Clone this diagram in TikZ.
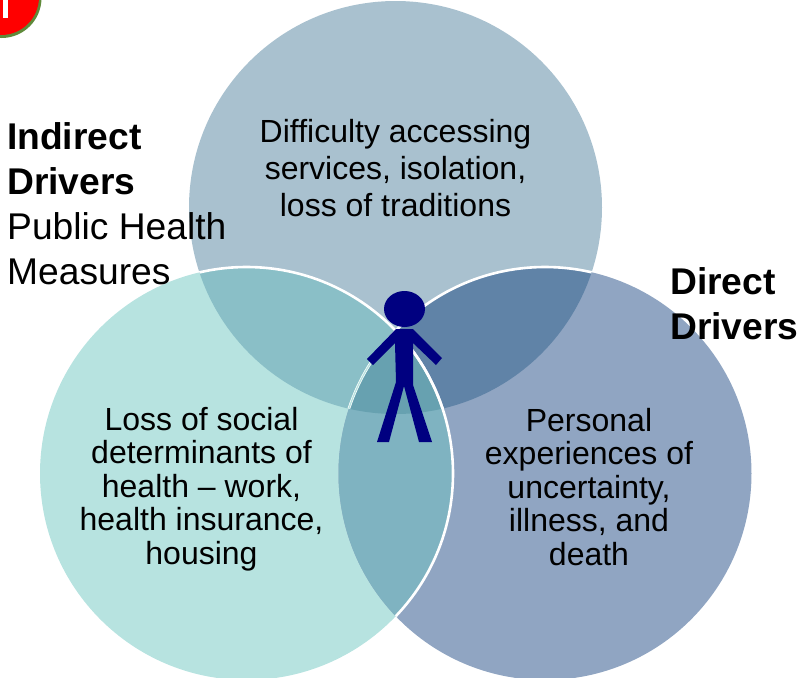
\documentclass[tikz,border=0pt]{standalone}
\usepackage{fontspec}
\setmainfont{Liberation Sans}
\definecolor{ctop}{HTML}{A9C1CF}
\definecolor{cleft}{HTML}{B7E3E0}
\definecolor{cright}{HTML}{90A5C2}
\definecolor{ctl}{HTML}{8ABFC7}
\definecolor{ctr}{HTML}{6083A7}
\definecolor{clr}{HTML}{7FB3C1}
\definecolor{call}{HTML}{67A1B0}
\definecolor{navyfig}{HTML}{000080}
\definecolor{badgered}{HTML}{FF0000}
\definecolor{badgeedge}{HTML}{5F8A3A}
\tikzset{
 x=1pt,y=-1pt,
 lbl/.style={font=\fontsize{32}{33.5}\selectfont,align=center,text=black,inner sep=0pt},
 lbltop/.style={font=\fontsize{32}{37}\selectfont,align=center,text=black,inner sep=0pt},
 sidelbl/.style={font=\fontsize{37.2}{45}\selectfont,align=left,text=black,inner sep=0pt,anchor=north west},
 person/.style={fill=navyfig,draw=none},
 whiteedge/.style={white,line width=2.6pt}
}
\def\cirT{(395.5,207.5) circle[radius=206.5]}
\def\cirL{(246.5,473.5) circle[radius=206.5]}
\def\cirR{(545,473.5) circle[radius=206.5]}
\begin{document}
\begin{tikzpicture}
\useasboundingbox (0,0) rectangle (807,678);
\clip (0,0) rectangle (807,678);
\fill[ctop] \cirT;
\fill[cleft] \cirL;
\fill[cright] \cirR;
\begin{scope}\clip \cirT; \fill[ctl] \cirL; \fill[ctr] \cirR; \end{scope}
\begin{scope}\clip \cirL; \clip \cirR; \fill[clr] (300,250) rectangle (500,650);
 \clip \cirT; \fill[call] (300,250) rectangle (500,450); \end{scope}
\begin{scope}\clip \cirT; \draw[whiteedge] \cirL; \draw[whiteedge] \cirR; \end{scope}
\begin{scope}\clip \cirR; \draw[whiteedge] \cirL; \end{scope}
\begin{scope}\clip \cirL; \clip \cirT; \draw[cleft,line width=1.2pt] \cirR; \end{scope}
\fill[badgeedge] (1.5,-2) circle[radius=40];
\fill[badgered] (1,-3) circle[radius=38];
\fill[white] (3,0) rectangle (8,18);
\fill[person] (404.5,309) ellipse[x radius=20.5,y radius=18];
\fill[person] (396,329) -- (413,329) -- (442,358) -- (436,365) -- (413,343) -- (413,385) -- (432,442) -- (419,442) -- (404,386) -- (389,442) -- (377,442) -- (396,382) -- (395,343) -- (373,365) -- (367,359) -- cycle;
\node[lbltop] (a) at (395.5,168) {Difficulty accessing\\services, isolation,\\loss of traditions};
\node[lbl] (b) at (201.5,489) {Loss of social\\determinants of\\health – work,\\health insurance,\\housing};
\node[lbl] (c) at (589,487) {Personal\\experiences of\\uncertainty,\\illness, and\\death};
\node[sidelbl] (d) at (7,122) {\textbf{Indirect}\\\textbf{Drivers}\\Public Health\\Measures};
\node[sidelbl] (e) at (670,267) {\textbf{Direct}\\\textbf{Drivers}};
\end{tikzpicture}
\end{document}
